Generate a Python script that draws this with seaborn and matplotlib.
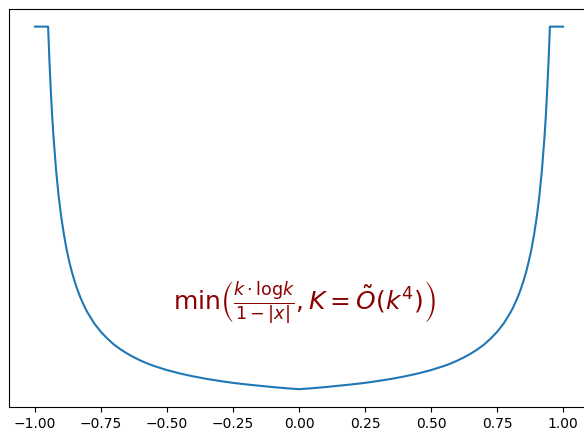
import seaborn as sns
import matplotlib.pyplot as plt

# curve (y in units of k*log k, capped at K)
x_vals = [-1.0, -0.95, -0.945, -0.94, -0.935, -0.93, -0.92, -0.91, -0.9, -0.89,
          -0.88, -0.87, -0.86, -0.85, -0.84, -0.83, -0.82, -0.81, -0.8, -0.775,
          -0.75, -0.725, -0.7, -0.675, -0.65, -0.625, -0.6, -0.575, -0.55, -0.525,
          -0.5, -0.45, -0.4, -0.35, -0.3, -0.25, -0.2, -0.15, -0.1, -0.05,
          0.0,
          0.05, 0.1, 0.15, 0.2, 0.25, 0.3, 0.35, 0.4, 0.45, 0.5,
          0.525, 0.55, 0.575, 0.6, 0.625, 0.65, 0.675, 0.7, 0.725, 0.75,
          0.775, 0.8, 0.81, 0.82, 0.83, 0.84, 0.85, 0.86, 0.87, 0.88,
          0.89, 0.9, 0.91, 0.92, 0.93, 0.935, 0.94, 0.945, 0.95, 1.0]
y_vals = [20.0, 20.0, 18.2, 16.7, 15.4, 14.3, 12.5, 11.1, 10.0, 9.09,
          8.33, 7.69, 7.14, 6.67, 6.25, 5.88, 5.56, 5.26, 5.00, 4.44,
          4.00, 3.64, 3.33, 3.08, 2.86, 2.67, 2.50, 2.35, 2.22, 2.11,
          2.00, 1.82, 1.67, 1.54, 1.43, 1.33, 1.25, 1.18, 1.11, 1.05,
          1.00,
          1.05, 1.11, 1.18, 1.25, 1.33, 1.43, 1.54, 1.67, 1.82, 2.00,
          2.11, 2.22, 2.35, 2.50, 2.67, 2.86, 3.08, 3.33, 3.64, 4.00,
          4.44, 5.00, 5.26, 5.56, 5.88, 6.25, 6.67, 7.14, 7.69, 8.33,
          9.09, 10.0, 11.1, 12.5, 14.3, 15.4, 16.7, 18.2, 20.0, 20.0]

label = r"$\min\left(\frac{k\cdot\mathrm{log}k}{1-|x|}, K=\tilde{O}(k^4)\right)$"

fig = plt.figure(figsize=(5.84, 4.32), dpi=100)
ax = fig.add_axes([8.5 / 584, (432 - 407.3) / 432, 581 / 584, 398.8 / 432])

sns.lineplot(x=x_vals, y=y_vals, ax=ax, color="#1f77b4", linewidth=1.5)
ax.set_yticks([])
ax.text(0.02, 5.5, label, color="darkred", fontsize=18, ha="center", va="center")

fig.savefig("out.png", dpi=100)
